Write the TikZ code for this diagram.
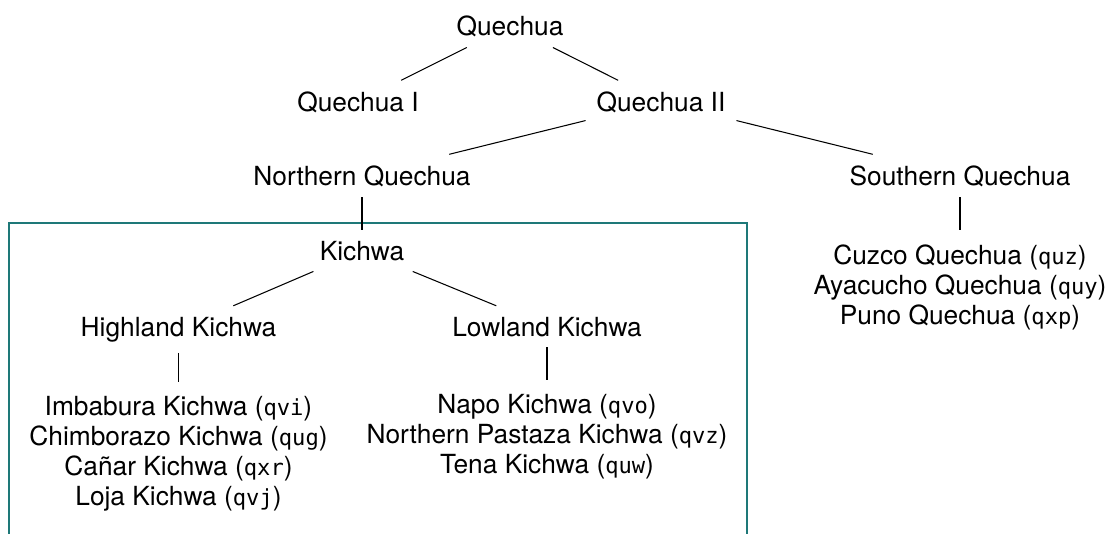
\documentclass[tikz,border=0pt]{standalone}
\usepackage{fontspec}
\setmainfont{TeX Gyre Heros}
\setmonofont{DejaVu Sans Mono}[Scale=0.84]
\definecolor{boxteal}{RGB}{30,120,120}
\tikzset{lang/.style={inner sep=4pt, anchor=base, align=center, font=\fontsize{10}{11.4}\selectfont},
    leaves/.style={lang, anchor=north, inner ysep=5.3pt}}
\newcommand{\isocode}[1]{(\texttt{#1})}

\begin{document}
\begin{tikzpicture}[x=0.38pt,y=0.38pt,yscale=-1,xscale=1]
    \useasboundingbox (0,0) rectangle (1110,533);

    %Shape: Open Box [Kichwa group]
    \draw [boxteal, line width=0.5pt] (9,545) -- (9,223) -- (747,223) -- (747,545) ;

    % Text Node
    \node [lang] (q) at (510,35) {Quechua};
    % Text Node
    \node [lang] (q1) at (358,111) {Quechua I};
    % Text Node
    \node [lang] (q2) at (661,111) {Quechua II};
    % Text Node
    \node [lang] (nq) at (362,185) {Northern Quechua};
    % Text Node
    \node [lang] (sq) at (960,185) {Southern Quechua};
    % Text Node
    \node [lang] (kw) at (362,260) {Kichwa};
    % Text Node
    \node [lang] (hk) at (178.5,336) {Highland Kichwa};
    % Text Node
    \node [lang] (lk) at (547,336) {Lowland Kichwa};
    % Text Node
    \node [leaves] (hkl) at (178.5,382) {Imbabura Kichwa \isocode{qvi}\\
        Chimborazo Kichwa \isocode{qug}\\
        Cañar Kichwa \isocode{qxr}\\
        Loja Kichwa \isocode{qvj}};
    % Text Node
    \node [leaves] (lkl) at (547,380) {Napo Kichwa \isocode{qvo}\\
        Northern Pastaza Kichwa \isocode{qvz}\\
        Tena Kichwa \isocode{quw}};
    % Text Node
    \node [leaves] (sql) at (960,230) {Cuzco Quechua \isocode{quz}\\
        Ayacucho Quechua \isocode{quy}\\
        Puno Quechua \isocode{qxp}};

    %Straight Lines
    \draw (q) -- (q1) ;
    \draw (q) -- (q2) ;
    \draw (q2) -- (nq) ;
    \draw (q2) -- (sq) ;
    \draw (nq) -- (kw) ;
    \draw (sq) -- (sql) ;
    \draw (kw) -- (hk) ;
    \draw (kw) -- (lk) ;
    \draw (hk) -- (hkl) ;
    \draw (lk) -- (lkl) ;

\end{tikzpicture}
\end{document}
